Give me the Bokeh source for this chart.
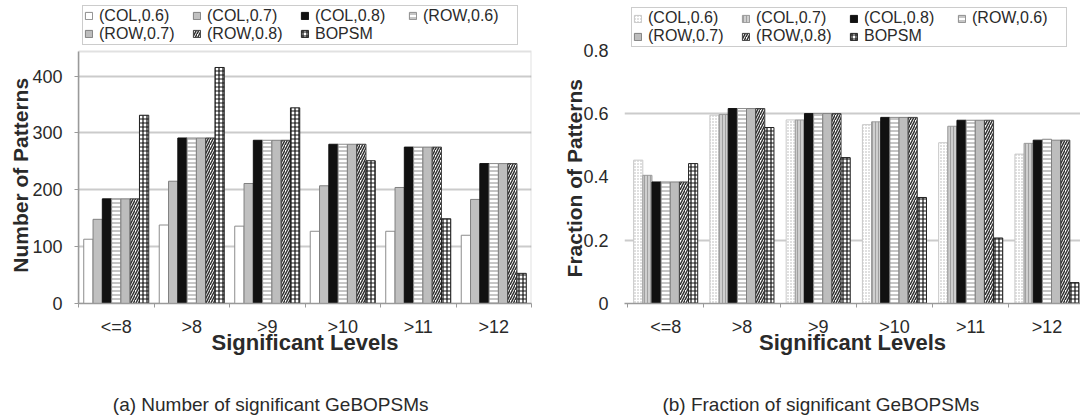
from bokeh.plotting import figure
from bokeh.models import (Range1d, FixedTicker, Legend, LegendItem, ColumnDataSource,
                          BoxAnnotation, LinearAxis)
from bokeh.layouts import row
from bokeh.embed import file_html
from bokeh.resources import INLINE

# ---------------- data ----------------
categories = ["<=8", ">8", ">9", ">10", ">11", ">12"]
series_names = ["(COL,0.6)", "(COL,0.7)", "(COL,0.8)", "(ROW,0.6)", "(ROW,0.7)", "(ROW,0.8)", "BOPSM"]

# (a) number of significant GeBOPSMs
count_col06 = [113, 138, 136, 127, 127, 120]
count_col07 = [148, 215, 211, 207, 204, 183]
count_col08 = [184, 291, 287, 280, 275, 246]
count_row06 = [184, 291, 287, 280, 275, 246]
count_row07 = [184, 291, 287, 280, 275, 246]
count_row08 = [184, 291, 287, 280, 275, 246]
count_bopsm = [331, 415, 344, 251, 149, 53]

# (b) fraction of significant GeBOPSMs
frac_col06 = [0.453, 0.595, 0.580, 0.565, 0.508, 0.472]
frac_col07 = [0.405, 0.597, 0.580, 0.574, 0.560, 0.506]
frac_col08 = [0.384, 0.616, 0.600, 0.588, 0.579, 0.516]
frac_row06 = [0.384, 0.616, 0.600, 0.588, 0.579, 0.519]
frac_row07 = [0.384, 0.616, 0.600, 0.588, 0.579, 0.516]
frac_row08 = [0.384, 0.616, 0.600, 0.588, 0.579, 0.516]
frac_bopsm = [0.442, 0.556, 0.461, 0.335, 0.207, 0.066]

count_ticks = [0, 100, 200, 300, 400]
frac_ticks = [0, 0.2, 0.4, 0.6, 0.8]

FONT = "Liberation Sans"
TXT = "#2a2a2a"
AX = "#9a9a9a"
NBSP = "\u00a0"

styles_a = [
    dict(fill_color="white", line_color="#8c8c8c"),
    dict(fill_color="#c0c0c0", line_color="#808080"),
    dict(fill_color="#111111", line_color="#111111"),
    dict(fill_color="white", line_color="#8c8c8c", hatch_pattern="horizontal_line",
         hatch_color="#8c8c8c", hatch_scale=4, hatch_weight=1),
    dict(fill_color="#bdbdbd", line_color="#808080"),
    dict(fill_color="white", line_color="#404040", hatch_pattern="right_diagonal_line",
         hatch_color="#303030", hatch_scale=5, hatch_weight=1.5),
    dict(fill_color="white", line_color="#202020", hatch_pattern="cross",
         hatch_color="#111111", hatch_scale=4, hatch_weight=1.2),
]
styles_b = [
    dict(fill_color="white", line_color="#c8c8c8", hatch_pattern="dot",
         hatch_color="#b0b0b0", hatch_scale=3, hatch_weight=1),
    dict(fill_color="#cfcfcf", line_color="#9a9a9a", hatch_pattern="vertical_line",
         hatch_color="#a0a0a0", hatch_scale=3, hatch_weight=1),
    styles_a[2], styles_a[3], styles_a[4], styles_a[5], styles_a[6],
]

FRAME_TOP = 0


def make_chart(series, styles, y_top, px_per_unit, zero_px, ticks, grid_ticks, ylabel, caption,
               border_left, border_right, x_start, x_end, bar_w, legend_left, legend_bottom,
               boxed, ylab_stand, ylab_pad, cap_pad):
    y_end = (zero_px - FRAME_TOP) / px_per_unit
    p = figure(width=540, height=419, output_backend="svg", toolbar_location=None,
               x_range=Range1d(x_start, x_end), y_range=Range1d(0, y_end),
               min_border_left=border_left, min_border_right=border_right,
               min_border_top=FRAME_TOP, min_border_bottom=419 - zero_px)
    p.background_fill_color = "white"
    p.border_fill_color = "white"
    p.outline_line_color = None
    items = []
    n = len(series)
    for k, (name, vals, st) in enumerate(zip(series_names, series, styles)):
        xs = [i + (k - (n - 1) / 2) * bar_w for i in range(len(categories))]
        src = ColumnDataSource(dict(x=xs, top=vals))
        r = p.vbar(x="x", top="top", width=bar_w, bottom=0, source=src, line_width=1, **st)
        items.append(LegendItem(label=name, renderers=[r]))
    leg = Legend(items=items, orientation="horizontal", nrows=2,
                 location=(legend_left, zero_px - legend_bottom),
                 label_text_font=FONT, label_text_font_size="16px",
                 label_text_color=TXT, glyph_width=9, glyph_height=9, label_standoff=6,
                 label_width=93, label_height=16, spacing=0, padding=1, margin=0,
                 border_line_color="#9a9a9a", border_line_width=1.5,
                 background_fill_color="white", background_fill_alpha=1)
    p.add_layout(leg, "center")

    p.xgrid.grid_line_color = None
    p.ygrid.ticker = FixedTicker(ticks=grid_ticks)
    p.ygrid.grid_line_color = "#cbcbcb"
    p.ygrid.grid_line_width = 2

    xa = p.xaxis[0]
    xa.ticker = FixedTicker(ticks=list(range(len(categories))),
                            minor_ticks=[i - 0.5 for i in range(len(categories) + 1)])
    xa.major_label_overrides = {i: c for i, c in enumerate(categories)}
    xa.major_tick_line_color = None
    xa.minor_tick_line_color = AX
    xa.minor_tick_in = 0
    xa.minor_tick_out = 4
    xa.axis_line_color = AX
    xa.axis_line_width = 1.5
    xa.major_label_standoff = 7
    xa.major_label_text_font = FONT
    xa.major_label_text_font_size = "18px"
    xa.major_label_text_color = TXT
    xa.axis_label = "Significant Levels"
    xa.axis_label_text_font = FONT
    xa.axis_label_text_font_style = "bold"
    xa.axis_label_text_font_size = "22px"
    xa.axis_label_text_color = TXT
    xa.axis_label_standoff = -10

    ya = p.yaxis[0]
    ya.ticker = FixedTicker(ticks=ticks)
    ya.bounds = (0, y_top)
    ya.major_label_text_font = FONT
    ya.major_label_text_font_size = "18px"
    ya.major_label_text_color = TXT
    ya.minor_tick_line_color = None
    # trailing no-break spaces move the centred title down to the middle of the plotted range
    ya.axis_label = ylabel + NBSP * ylab_pad
    ya.axis_label_text_font = FONT
    ya.axis_label_text_font_style = "bold"
    ya.axis_label_text_font_size = "21px"
    ya.axis_label_text_color = TXT
    ya.axis_label_standoff = ylab_stand
    if boxed:
        ya.axis_line_color = AX
        ya.axis_line_width = 1.5
        ya.major_tick_line_color = AX
        ya.major_tick_in = 0
        ya.major_tick_out = 4
        ya.major_label_standoff = 12
        p.add_layout(BoxAnnotation(left=x_start, right=x_end, bottom=0, top=y_top,
                                   fill_alpha=0, line_color=AX, line_width=2, level="underlay"))
    else:
        ya.axis_line_color = None
        ya.major_tick_line_color = None
        ya.major_label_standoff = 10

    # sub-figure caption: label of a bare second axis below the chart
    cap_axis = LinearAxis(ticker=FixedTicker(ticks=[]), axis_label=caption + NBSP * cap_pad,
                          axis_label_standoff=36, axis_label_text_font=FONT,
                          axis_label_text_font_size="19px", axis_label_text_font_style="normal",
                          axis_label_text_color=TXT, axis_line_color=None,
                          major_tick_line_color=None, minor_tick_line_color=None,
                          major_tick_out=0, minor_tick_out=0, major_label_text_font_size="0px")
    p.add_layout(cap_axis, "below")
    return p


series_a = [count_col06, count_col07, count_col08, count_row06, count_row07, count_row08, count_bopsm]
series_b = [frac_col06, frac_col07, frac_col08, frac_row06, frac_row07, frac_row08, frac_bopsm]

p1 = make_chart(series_a, styles_a, 443, 0.5725, 305, count_ticks, [100, 200, 300, 400],
                "Number of Patterns", "(a) Number of significant GeBOPSMs",
                78, 9, -0.5, 5.5, 0.123, 4, 46.5, True, -3, 8, 13)
p2 = make_chart(series_b, styles_b, 0.8, 316.5, 303, frac_ticks, [0.2, 0.6],
                "Fraction of Patterns", "(b) Fraction of significant GeBOPSMs",
                84, 0, -0.54, 5.44, 0.12, 7, 47, False, -6, 9, 12)

layout = row(p1, p2)
open("out.html", "w").write(file_html(layout, INLINE))
